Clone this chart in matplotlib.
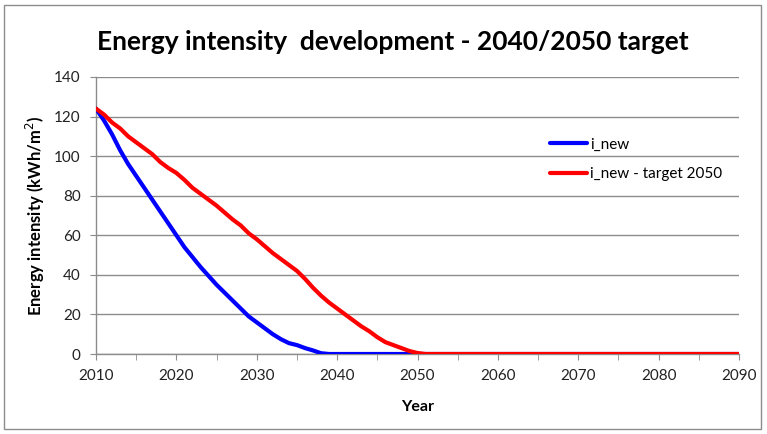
import matplotlib
matplotlib.use("Agg")
import matplotlib.pyplot as plt
from matplotlib.patches import Rectangle

years = list(range(2010, 2091))

i_new = [124, 118, 111, 103, 96, 90, 84, 78, 72, 66,
         60, 54, 49, 44, 39.5, 35, 31, 27, 23, 19,
         16, 13, 10, 7.5, 5.5, 4.5, 3, 1.8, 0.4, 0,
         0, 0, 0, 0, 0, 0, 0, 0, 0, 0,
         0, 0, 0, 0, 0, 0, 0, 0, 0, 0,
         0, 0, 0, 0, 0, 0, 0, 0, 0, 0,
         0, 0, 0, 0, 0, 0, 0, 0, 0, 0,
         0, 0, 0, 0, 0, 0, 0, 0, 0, 0,
         0]

i_new_2050 = [124, 121, 117, 114, 110, 107, 104, 101, 97, 94,
              91.5, 88, 84, 81, 78, 75, 71.5, 68, 65, 61,
              58, 54.5, 51, 48, 45, 42, 38, 33.5, 29.5, 26,
              23, 20, 17, 14, 11.5, 8.5, 6, 4.5, 3, 1.5,
              0.5, 0, 0, 0, 0, 0, 0, 0, 0, 0,
              0, 0, 0, 0, 0, 0, 0, 0, 0, 0,
              0, 0, 0, 0, 0, 0, 0, 0, 0, 0,
              0, 0, 0, 0, 0, 0, 0, 0, 0, 0,
              0]

series_labels = ["i_new", "i_new - target 2050"]
x_ticks = list(range(2010, 2091, 10))
y_ticks = list(range(0, 141, 20))

plt.rcParams["font.family"] = ["Lato", "DejaVu Sans"]

fig = plt.figure(figsize=(7.67, 4.34), dpi=100)
fig.patch.set_facecolor("white")
fig.add_artist(Rectangle((4 / 767, 5 / 434), 757 / 767, 424 / 434,
                         transform=fig.transFigure, fill=False,
                         edgecolor="#8c8c8c", linewidth=1.0))

ax = fig.add_axes([96 / 767, 1 - 354 / 434, 643 / 767, 277 / 434])

ax.plot(years, i_new, color="#0000FF", lw=3.0, solid_capstyle="round",
        label=series_labels[0], zorder=3)
ax.plot(years, i_new_2050, color="#FF0000", lw=3.0, solid_capstyle="round",
        label=series_labels[1], zorder=4)

ax.set_xlim(2010, 2090)
ax.set_ylim(0, 140)
ax.set_xticks(x_ticks)
ax.set_xticks(list(range(2015, 2090, 10)), minor=True)
ax.set_yticks(y_ticks)
ax.grid(axis="y", color="#8c8c8c", lw=1.0)
ax.set_axisbelow(True)

for s in ["top", "right"]:
    ax.spines[s].set_visible(False)
for s in ["left", "bottom"]:
    ax.spines[s].set_color("#8c8c8c")
    ax.spines[s].set_linewidth(1.0)

ax.tick_params(axis="x", which="both", direction="out", length=4,
               color="#8c8c8c", labelsize=11, pad=7)
ax.tick_params(axis="y", direction="out", length=4, color="#8c8c8c",
               labelsize=11, pad=7)
for lbl in ax.get_xticklabels() + ax.get_yticklabels():
    lbl.set_color("#222222")

ax.set_xlabel("Year", fontsize=11.5, fontweight="bold", labelpad=12)
ax.set_ylabel("Energy intensity (kWh/m$^2$)", fontsize=12,
              fontweight="bold", labelpad=5)

fig.suptitle("Energy intensity  development - 2040/2050 target",
             x=393 / 767, y=1 - 42 / 434, va="center",
             fontsize=19, fontweight="bold")

ax.legend(loc="upper left", bbox_to_anchor=(0.685, 0.83), frameon=False,
          fontsize=11, handlelength=2.4, handletextpad=0.2,
          labelspacing=1.0)

fig.savefig("out.png", dpi=100, facecolor="white")
